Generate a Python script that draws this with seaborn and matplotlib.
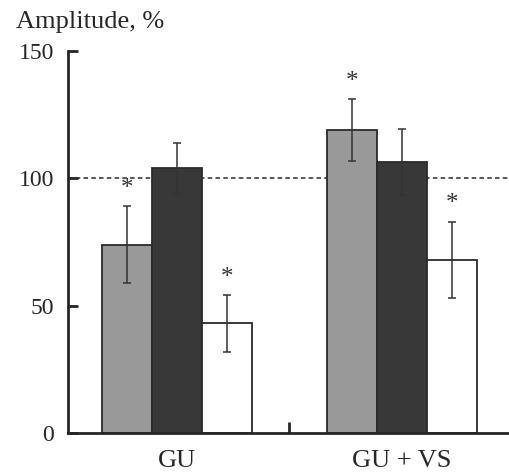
import numpy as np
import pandas as pd
import matplotlib
matplotlib.use("Agg")
import matplotlib.pyplot as plt
import seaborn as sns

# values
groups = ["GU", "GU + VS"]
series = ["a", "b", "c"]
amp_gu = [74, 104, 43]
amp_guvs = [119, 106.5, 68]
err_gu = [15, 10, 11]
err_guvs = [12, 13, 15]
star_gu = [True, False, True]
star_guvs = [True, False, True]
colors = ["#999999", "#383838", "#ffffff"]

df = pd.DataFrame({
    "group": np.repeat(groups, len(series)),
    "series": series * len(groups),
    "amp": amp_gu + amp_guvs,
})
errs = err_gu + err_guvs
stars = star_gu + star_guvs

sns.set_style("ticks")
plt.rcParams["font.family"] = ["Liberation Serif", "DejaVu Serif"]

fig = plt.figure(figsize=(5.1, 4.72), dpi=100)
ax = fig.add_axes([68 / 510, 1 - 433 / 472, 1 - 68 / 510, (433 - 51) / 472])

ax.axhline(100, color="#4a4a4a", lw=1.3, ls=(0, (2.5, 1.8)), zorder=0)

sns.barplot(data=df, x="group", y="amp", hue="series", palette=colors,
            width=0.67, errorbar=None, edgecolor="#2a2a2a", linewidth=1.3,
            legend=False, ax=ax, zorder=2)

# error bars and asterisks on top of each bar
bars = sorted(ax.patches, key=lambda p: p.get_x())
order = sorted(range(len(df)), key=lambda i: (groups.index(df["group"][i]), series.index(df["series"][i])))
for b, i in zip(bars, order):
    xc = b.get_x() + b.get_width() / 2
    v = df["amp"][i]
    e = errs[i]
    ax.errorbar(xc, v, yerr=e, fmt="none", ecolor="#333333", elinewidth=1.1,
                capsize=3, capthick=1.1, zorder=3)
    if stars[i]:
        ax.text(xc, v + e + 7, "*", ha="center", va="center", fontsize=18, color="#333333")

ax.set_ylim(0, 150)
ax.set_xlim(-0.484, 1.48)
ax.set_yticks([0, 50, 100, 150])
ax.set_xticks([0, 1])
ax.set_xticklabels(groups)
ax.set_xticks([0.5], minor=True)
ax.set_xlabel("")
ax.set_ylabel("")
ax.tick_params(axis="y", direction="in", length=7, width=2, labelsize=17, pad=10)
ax.tick_params(axis="x", which="major", length=0, labelsize=19, pad=12)
ax.tick_params(axis="x", which="minor", direction="in", length=8, width=2)
for s in ["left", "bottom"]:
    ax.spines[s].set_linewidth(2)
sns.despine(ax=ax)

fig.text(16 / 510, 1 - 28 / 472, "Amplitude, %", fontsize=19, va="baseline", ha="left")

fig.savefig("out.png", dpi=100)
